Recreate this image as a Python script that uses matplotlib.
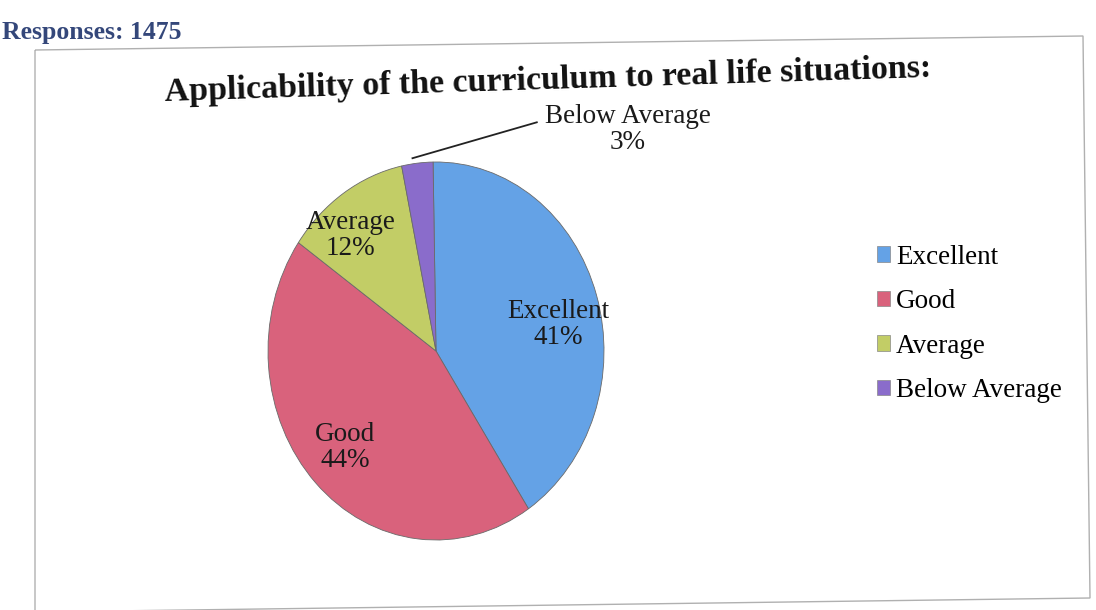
import matplotlib
matplotlib.use("Agg")
import matplotlib.pyplot as plt
from matplotlib.patches import Polygon
from matplotlib.lines import Line2D

categories = ["Excellent", "Good", "Average", "Below Average"]
percent = [41, 44, 12, 3]
colors = ["#64A2E6", "#D9627C", "#C2CD66", "#8A6CCB"]
title = "Applicability of the curriculum to real life situations:"
responses = "Responses: 1475"

plt.rcParams["font.family"] = ["Liberation Serif", "DejaVu Serif"]

W, H = 1096, 610
fig = plt.figure(figsize=(W / 100, H / 100), dpi=100)
fig.patch.set_facecolor("white")

# chart frame (slightly skewed like the scan)
frame = Polygon([(35 / W, 1 - 50 / H), (1083 / W, 1 - 36 / H), (1090 / W, 1 - 598 / H), (35 / W, 1 - 612 / H)],
                closed=True, fill=False, edgecolor="#b0b0b0", lw=1.0, transform=fig.transFigure)
fig.add_artist(frame)

fig.text(2 / W, 1 - 32 / H, responses, fontsize=18.5, fontweight="bold", color="#34477a",
         ha="left", va="center")
fig.text(548 / W, 1 - 80 / H, title, fontsize=24.5, fontweight="bold", color="#111111",
         ha="center", va="center", rotation=1.8, rotation_mode="anchor")

cx, cy, rx, ry = 436, 351, 168, 189
ax = fig.add_axes([(cx - rx) / W, (H - cy - ry) / H, 2 * rx / W, 2 * ry / H])
wedges, _ = ax.pie(percent, colors=colors, startangle=91, counterclock=False, radius=1.0,
                   wedgeprops=dict(edgecolor="#6a6a6a", linewidth=0.6))
ax.set_aspect("auto")
ax.set_xlim(-1, 1)
ax.set_ylim(-1, 1)
ax.axis("off")

label_pos = [(0.73, 0.14), (-0.54, -0.51), (-0.51, 0.61), (1.14, 1.17)]
for cat, p, (x, y) in zip(categories, percent, label_pos):
    ax.text(x, y, f"{cat}\n{p}%", ha="center", va="center", fontsize=19.5, color="#1a1a1a",
            linespacing=1.05, clip_on=False)

ax.add_line(Line2D([-0.14, 0.60], [1.02, 1.21], color="#222222", lw=1.3, clip_on=False))

handles = [plt.Rectangle((0, 0), 1, 1, facecolor=c, edgecolor="#888888", lw=0.5) for c in colors]
fig.legend(handles, categories, loc="center left", bbox_to_anchor=(866 / W, 1 - 324 / H),
           frameon=False, fontsize=19.5, handlelength=0.5, handleheight=0.5, handletextpad=0.2,
           labelspacing=0.72, borderaxespad=0)

fig.savefig("out.png", dpi=100, facecolor="white")
